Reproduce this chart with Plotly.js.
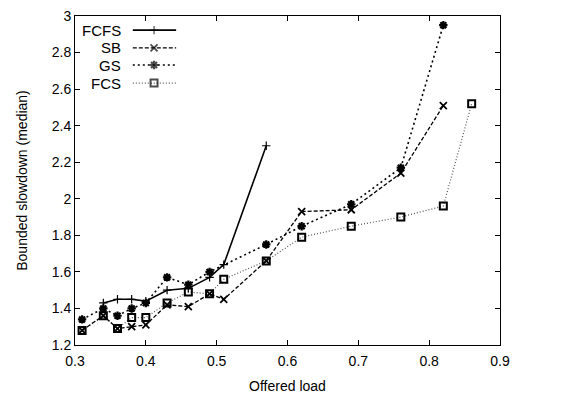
<!DOCTYPE html>
<html>
<head>
<meta charset="utf-8">
<script src="https://cdn.plot.ly/plotly-3.0.1.min.js"></script>
<style>html,body{margin:0;padding:0;background:#fff;}#chart{width:573px;height:402px;}</style>
</head>
<body>
<div id="chart"></div>
<script>
// Offered load / bounded slowdown (median)
const seriesNames = ["FCFS", "SB", "GS", "FCS"];

const loadFCFS = [0.34, 0.36, 0.38, 0.40, 0.43, 0.46, 0.49, 0.51, 0.57];
const bsldFCFS = [1.43, 1.45, 1.45, 1.44, 1.50, 1.51, 1.57, 1.64, 2.29];

const loadSB = [0.31, 0.34, 0.36, 0.38, 0.40, 0.43, 0.46, 0.49, 0.51, 0.57, 0.62, 0.69, 0.76, 0.82];
const bsldSB = [1.28, 1.36, 1.29, 1.30, 1.31, 1.42, 1.41, 1.48, 1.45, 1.66, 1.93, 1.94, 2.14, 2.51];

const loadGS = [0.31, 0.34, 0.36, 0.38, 0.40, 0.43, 0.46, 0.49, 0.57, 0.62, 0.69, 0.76, 0.82];
const bsldGS = [1.34, 1.40, 1.36, 1.40, 1.43, 1.57, 1.53, 1.60, 1.75, 1.85, 1.97, 2.17, 2.95];

const loadFCS = [0.31, 0.34, 0.36, 0.38, 0.40, 0.43, 0.46, 0.49, 0.51, 0.57, 0.62, 0.69, 0.76, 0.82, 0.86];
const bsldFCS = [1.28, 1.36, 1.29, 1.35, 1.35, 1.43, 1.49, 1.48, 1.56, 1.66, 1.79, 1.85, 1.90, 1.96, 2.52];

const xTickVals = [0.3, 0.4, 0.5, 0.6, 0.7, 0.8, 0.9];
const yTickVals = [1.2, 1.4, 1.6, 1.8, 2.0, 2.2, 2.4, 2.6, 2.8, 3.0];

const styles = {
  FCFS: {line: {color: "#000", width: 1.6, dash: "solid"}, marker: {symbol: "cross-thin-open", size: 6, color: "#000", line: {width: 1.2, color: "#000"}}},
  SB:   {line: {color: "#000", width: 1.3, dash: "4px,2px"}, marker: {symbol: "x-thin-open", size: 7, color: "#000", line: {width: 1.8, color: "#000"}}},
  GS:   {line: {color: "#000", width: 1.6, dash: "2px,3px"}, marker: {symbol: "asterisk-open", size: 7, color: "#000", line: {width: 2.2, color: "#000"}}},
  FCS:  {line: {color: "#555", width: 1.2, dash: "1px,2px"}, marker: {symbol: "square-open", size: 7, color: "#000", line: {width: 2, color: "#000"}}}
};

const dataX = {FCFS: loadFCFS, SB: loadSB, GS: loadGS, FCS: loadFCS};
const dataY = {FCFS: bsldFCFS, SB: bsldSB, GS: bsldGS, FCS: bsldFCS};

const traces = [];
seriesNames.slice().reverse().forEach(function (n) {
  traces.push({
    x: dataX[n], y: dataY[n], name: n, type: "scatter", mode: "lines+markers",
    line: styles[n].line, marker: styles[n].marker, showlegend: false, hoverinfo: "x+y+name"
  });
});

// custom legend (text right-aligned, sample to its right), placed in an overlay axis
const legendRows = [0.957, 0.903, 0.851, 0.796];
const sampleX = [0.136, 0.186, 0.238];
const annotations = [];
seriesNames.forEach(function (n, i) {
  traces.push({
    x: sampleX, y: [legendRows[i], legendRows[i], legendRows[i]], xaxis: "x2", yaxis: "y2",
    type: "scatter", mode: "lines+markers", showlegend: false, hoverinfo: "skip",
    line: styles[n].line,
    marker: Object.assign({}, styles[n].marker, {size: [0, styles[n].marker.size, 0]})
  });
  annotations.push({
    xref: "paper", yref: "paper", x: 0.112, y: legendRows[i], xanchor: "right", yanchor: "middle",
    text: n, showarrow: false, font: {family: "Liberation Sans, Arial, sans-serif", size: 15, color: "#000"}
  });
});

const axisCommon = {
  showline: true, linecolor: "#000", linewidth: 1, mirror: "allticks",
  ticks: "inside", ticklen: 5, tickcolor: "#000", tickwidth: 1,
  showgrid: false, zeroline: false,
  tickfont: {family: "Liberation Sans, Arial, sans-serif", size: 14, color: "#000"}
};

const layout = {
  width: 573, height: 402,
  margin: {l: 75, r: 73, t: 16, b: 57, pad: 0},
  paper_bgcolor: "#fff", plot_bgcolor: "#fff",
  showlegend: false,
  font: {family: "Liberation Sans, Arial, sans-serif", size: 14, color: "#000"},
  xaxis: Object.assign({}, axisCommon, {
    range: [0.3, 0.9], tickvals: xTickVals, ticktext: xTickVals.map(v => v.toFixed(1)),
    ticklabelstandoff: 3,
    title: {text: "Offered load", font: {size: 14}, standoff: 13}
  }),
  yaxis: Object.assign({}, axisCommon, {
    range: [1.2, 3.0], tickvals: yTickVals, ticktext: yTickVals.map(v => (Math.round(v * 10) % 10 === 0 ? String(Math.round(v)) : v.toFixed(1))),
    title: {text: "Bounded slowdown (median)", font: {size: 14}, standoff: 20}
  }),
  xaxis2: {overlaying: "x", range: [0, 1], visible: false, fixedrange: true},
  yaxis2: {overlaying: "y", range: [0, 1], visible: false, fixedrange: true},
  annotations: annotations
};

Plotly.newPlot("chart", traces, layout, {staticPlot: true, displayModeBar: false});
</script>
</body>
</html>
